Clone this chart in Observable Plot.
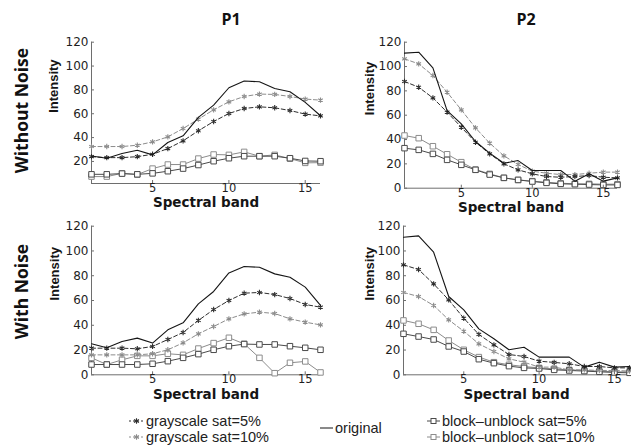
<!DOCTYPE html>
<html>
<head>
<meta charset="utf-8">
<script src="https://cdn.jsdelivr.net/npm/d3@7"></script>
<script src="https://cdn.jsdelivr.net/npm/@observablehq/plot@0.6"></script>
<style>
html, body { margin: 0; padding: 0; background: #fff; }
#root { position: relative; width: 631px; height: 447px; overflow: hidden; background: #fff; }
#root .panel { position: absolute; }
#overlay { position: absolute; left: 0; top: 0; pointer-events: none; }
</style>
</head>
<body>
<div id="root"></div>
<script>
// ---------- data ----------
const band = [1, 2, 3, 4, 5, 6, 7, 8, 9, 10, 11, 12, 13, 14, 15, 16];
const xTicks = [5, 10, 15];
const columnTitles = ["P1", "P2"];
const rowTitles = ["Without Noise", "With Noise"];
const seriesNames = ["grayscale sat=5%", "grayscale sat=10%", "original", "block–unblock sat=5%", "block–unblock sat=10%"];

// P1, without noise
const p1CleanOriginal = [24.6, 22.7, 26.6, 29.4, 25.5, 35.9, 41.5, 56.9, 67.2, 81.8, 87.4, 86.8, 81.2, 78.4, 69.5, 58.3];
const p1CleanGray5   = [24, 23.2, 23.2, 24, 26, 30.8, 37.3, 45.7, 53.5, 60.2, 64.4, 65.8, 65, 62.7, 59.7, 58.2];
const p1CleanGray10  = [32.5, 32.5, 32.5, 33.6, 36.4, 40.6, 47.6, 55.5, 63.3, 70, 74.5, 76.5, 76.2, 74.5, 72.3, 71.4];
const p1CleanBlock5  = [9.2, 9.2, 9.8, 9.2, 10, 11.8, 14, 17, 20.2, 22.7, 24.4, 24.4, 24.4, 22.7, 20.4, 20.2];
const p1CleanBlock10 = [7.3, 7.3, 10, 9, 14, 17.4, 17.4, 22.4, 25.8, 25.5, 28, 24.4, 25.5, 22.4, 18.8, 19];

// P2, without noise
const p2CleanOriginal = [111, 111.8, 98.9, 63.8, 52.9, 38.4, 28.8, 20.5, 22.7, 14.5, 14.5, 14.5, 5.8, 11.8, 5.8, 8.5];
const p2CleanGray5   = [87.7, 83, 74.2, 62.5, 50.1, 37.8, 28.2, 20, 15.1, 11.8, 9.6, 9, 9.6, 10.4, 9, 8.5];
const p2CleanGray10  = [106.3, 102.2, 92.6, 78.9, 64.4, 49.6, 37, 26.6, 19.5, 14, 12.3, 11.2, 11.2, 12.3, 13.2, 13.2];
const p2CleanBlock5  = [32.9, 31.5, 28.2, 23.3, 19.2, 15.1, 11.2, 8.5, 6.8, 5.5, 4.4, 3.6, 3.3, 3, 2.7, 2.7];
const p2CleanBlock10 = [43.3, 41.1, 34.5, 27.9, 21.4, 15.3, 11.8, 8.5, 6.8, 5.8, 4.9, 4.1, 3.6, 3.6, 3.3, 3.3];

// P1, with noise
const p1NoiseOriginal = [25, 21.8, 26.9, 29.6, 25.6, 36.3, 42, 57.3, 67.3, 82.3, 87.4, 86.8, 81.5, 78.8, 70.8, 56];
const p1NoiseGray5   = [21.5, 21.5, 21.5, 21, 22.9, 28.5, 34.2, 43.9, 52.7, 60, 65.9, 66.5, 64.8, 61.6, 56.8, 54.6];
const p1NoiseGray10  = [16.1, 16.1, 16.1, 16.1, 17, 20.2, 25.8, 33.1, 39, 45.2, 49.2, 50.6, 49.5, 45.2, 42.5, 40.3];
const p1NoiseBlock5  = [8.3, 8.3, 8.3, 8.3, 8.9, 11, 13.7, 16.7, 20.2, 23.1, 24.8, 24.5, 24.5, 23.1, 21.8, 20.2];
const p1NoiseBlock10 = [13.7, 8.3, 12.1, 15.3, 15.3, 17, 16.1, 21.2, 25.6, 29.9, 25, 13.7, 1.3, 9.7, 10.8, 1.9];

// P2, with noise
const p2NoiseOriginal = [111.1, 112.2, 99, 63.2, 52.5, 37.1, 29.1, 20.2, 22.3, 14.3, 14.3, 14.3, 6.2, 10.2, 6.2, 6.7];
const p2NoiseGray5   = [88.8, 85, 73.4, 60.5, 45.7, 32.6, 24.2, 16.4, 14.8, 11, 10, 8.9, 6.7, 6.7, 5.6, 5.6];
const p2NoiseGray10  = [66.5, 63.2, 56, 44.4, 35.2, 25, 18.8, 12.9, 10.2, 6.2, 6.2, 4, 4, 3.5, 3.5, 3];
const p2NoiseBlock5  = [33.1, 30.9, 28.5, 22.9, 18.8, 12.6, 9.4, 7, 5.6, 5.1, 4, 3.5, 3, 2.4, 1.9, 1.6];
const p2NoiseBlock10 = [43.9, 41.2, 36.3, 27.7, 20.2, 14.3, 10.2, 8.1, 6.7, 5.6, 4.8, 4, 3.5, 3, 2.4, 2.4];

// ---------- styles / layout ----------
const styles = {
  "grayscale sat=5%":      {stroke: "#2e2e2e", dash: "4,2.5", symbol: "asterisk", width: 1},
  "grayscale sat=10%":     {stroke: "#8c8c8c", dash: "4,2.5", symbol: "asterisk", width: 1},
  "original":              {stroke: "#151515", dash: null, symbol: null, width: 1.1},
  "block–unblock sat=5%":  {stroke: "#4a4a4a", dash: null, symbol: "square", width: 1},
  "block–unblock sat=10%": {stroke: "#8c8c8c", dash: null, symbol: "square", width: 1}
};
const drawOrder = ["block–unblock sat=10%", "block–unblock sat=5%", "grayscale sat=10%", "grayscale sat=5%", "original"];

const panels = [
  {values: [p1CleanGray5, p1CleanGray10, p1CleanOriginal, p1CleanBlock5, p1CleanBlock10],
   left: 0, top: 0, width: 330, height: 215, mL: 91, mR: 10, mT: 41.7, mB: 32,
   yDomain: [1.5, 120], yTicks: [20, 40, 60, 80, 100, 120], yLabelDx: -38},
  {values: [p2CleanGray5, p2CleanGray10, p2CleanOriginal, p2CleanBlock5, p2CleanBlock10],
   left: 330, top: 0, width: 301, height: 215, mL: 74, mR: 14, mT: 41.7, mB: 27.3,
   yDomain: [0, 120], yTicks: [0, 20, 40, 60, 80, 100, 120], yLabelDx: -35},
  {values: [p1NoiseGray5, p1NoiseGray10, p1NoiseOriginal, p1NoiseBlock5, p1NoiseBlock10],
   left: 0, top: 215, width: 330, height: 195, mL: 91, mR: 10, mT: 10.7, mB: 35.7,
   yDomain: [0, 120], yTicks: [0, 20, 40, 60, 80, 100, 120], yLabelDx: -37},
  {values: [p2NoiseGray5, p2NoiseGray10, p2NoiseOriginal, p2NoiseBlock5, p2NoiseBlock10],
   left: 330, top: 215, width: 301, height: 195, mL: 73, mR: 2, mT: 10.7, mB: 35.7,
   yDomain: [0, 120], yTicks: [0, 20, 40, 60, 80, 100, 120], yLabelDx: -34}
];

const root = document.getElementById("root");

for (const p of panels) {
  const rows = [];
  seriesNames.forEach((name, si) => {
    p.values[si].forEach((v, i) => rows.push({band: band[i], value: v, series: name}));
  });
  const marks = [];
  // axis frame lines (left and bottom)
  marks.push(Plot.ruleX([band[0]], {stroke: "#6e6e6e", strokeWidth: 1}));
  marks.push(Plot.ruleY([p.yDomain[0]], {stroke: "#6e6e6e", strokeWidth: 1}));
  for (const name of drawOrder) {
    const st = styles[name];
    const d = rows.filter(r => r.series === name);
    marks.push(Plot.line(d, {x: "band", y: "value", stroke: st.stroke, strokeWidth: st.width,
      strokeDasharray: st.dash || undefined}));
    if (st.symbol === "asterisk") {
      marks.push(Plot.dot(d, {x: "band", y: "value", symbol: "asterisk", r: 2.5, stroke: st.stroke, strokeWidth: 1.1}));
    } else if (st.symbol === "square") {
      marks.push(Plot.dot(d, {x: "band", y: "value", symbol: "square", r: 3.1, stroke: st.stroke, fill: "white", strokeWidth: 1}));
    }
  }
  marks.push(Plot.axisX({ticks: xTicks, tickSize: -3, tickPadding: 3.5, fontSize: 11.5, stroke: "#6e6e6e", fill: "#1e1e1e", label: null}));
  marks.push(Plot.axisY({ticks: p.yTicks, tickSize: -3, tickPadding: 6, stroke: "#6e6e6e", fill: "#1e1e1e", label: null}));
  marks.push(Plot.text(["Spectral band"], {text: d => d, frameAnchor: "bottom", dy: 19.5, lineAnchor: "middle",
    fontWeight: "bold", fontSize: 13.5, fontFamily: "DejaVu Sans", fill: "#151515"}));
  marks.push(Plot.text(["Intensity"], {text: d => d, frameAnchor: "left", dx: p.yLabelDx, rotate: -90, lineAnchor: "middle",
    fontWeight: "bold", fontSize: 13, fontFamily: "Liberation Sans", fill: "#151515"}));

  const chart = Plot.plot({
    width: p.width, height: p.height,
    marginLeft: p.mL, marginRight: p.mR, marginTop: p.mT, marginBottom: p.mB,
    x: {domain: [band[0], band[band.length - 1]]},
    y: {domain: p.yDomain},
    style: {fontFamily: "DejaVu Sans", fontSize: "12px", color: "#1e1e1e", background: "transparent", overflow: "visible"},
    marks
  });
  const wrap = document.createElement("div");
  wrap.className = "panel";
  wrap.style.left = p.left + "px";
  wrap.style.top = p.top + "px";
  wrap.appendChild(chart);
  root.appendChild(wrap);
}

// ---------- titles, row labels and legend ----------
const ov = d3.select(root).append("svg").attr("id", "overlay").attr("width", 631).attr("height", 447);
const titleX = [231, 526];
columnTitles.forEach((t, i) => {
  ov.append("text").attr("x", titleX[i]).attr("y", 25).attr("text-anchor", "middle")
    .style("font", "bold 16px 'Open Sans'").attr("fill", "#111").text(t);
});
const rowY = [110.5, 291.5];
rowTitles.forEach((t, i) => {
  ov.append("text").attr("transform", `translate(28,${rowY[i]}) rotate(-90)`).attr("text-anchor", "middle")
    .style("font", "bold 17.5px 'Open Sans'").attr("fill", "#111").text(t);
});

const legendPos = {
  "grayscale sat=5%":      {x0: 129, x1: 144, y: 421},
  "grayscale sat=10%":     {x0: 129, x1: 144, y: 437},
  "original":              {x0: 320, x1: 333, y: 428},
  "block–unblock sat=5%":  {x0: 427, x1: 440, y: 421},
  "block–unblock sat=10%": {x0: 427, x1: 440, y: 437}
};
for (const name of seriesNames) {
  const st = styles[name], lp = legendPos[name];
  ov.append("line").attr("x1", lp.x0).attr("x2", lp.x1).attr("y1", lp.y).attr("y2", lp.y)
    .attr("stroke", st.stroke).attr("stroke-width", 1)
    .attr("stroke-dasharray", st.dash ? "2,2" : null);
  const cx = (lp.x0 + lp.x1) / 2;
  if (st.symbol === "asterisk") {
    ov.append("path").attr("d", d3.symbol(d3.symbolAsterisk, 22)()).attr("transform", `translate(${cx},${lp.y})`)
      .attr("stroke", st.stroke).attr("fill", "none").attr("stroke-width", 1.1);
  } else if (st.symbol === "square") {
    ov.append("rect").attr("x", cx - 2.5).attr("y", lp.y - 2.5).attr("width", 5).attr("height", 5)
      .attr("fill", "white").attr("stroke", st.stroke).attr("stroke-width", 1);
  }
  ov.append("text").attr("x", lp.x1 + 2).attr("y", lp.y).attr("dy", "0.35em")
    .style("font", "14.5px 'Liberation Sans'").attr("fill", "#222").text(name);
}
</script>
</body>
</html>
